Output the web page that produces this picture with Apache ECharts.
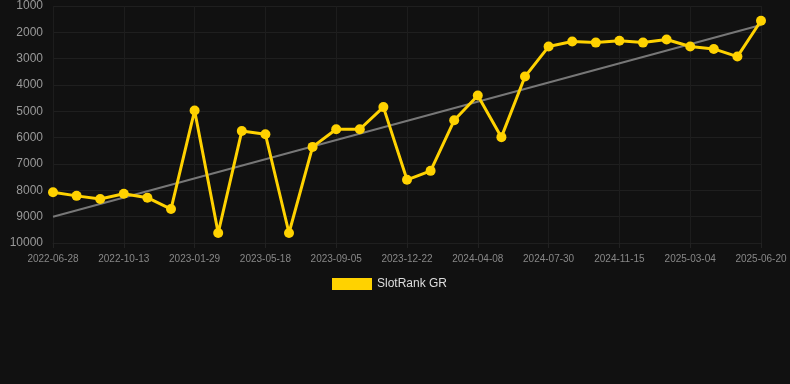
<!DOCTYPE html>
<html>
<head>
<meta charset="utf-8">
<script src="https://cdn.jsdelivr.net/npm/echarts@6/dist/echarts.min.js"></script>
<style>
  html, body { margin: 0; padding: 0; background: #111111; }
  #chart { width: 790px; height: 384px; }
</style>
</head>
<body>
<div id="chart"></div>
<script>
// dates between the labelled ticks are estimated
const dates = [
  '2022-06-28', '2022-08-03', '2022-09-08', '2022-10-13', '2022-11-18', '2022-12-24',
  '2023-01-29', '2023-03-06', '2023-04-12', '2023-05-18', '2023-06-24', '2023-07-30',
  '2023-09-05', '2023-10-11', '2023-11-16', '2023-12-22', '2024-01-27', '2024-03-03',
  '2024-04-08', '2024-05-15', '2024-06-22', '2024-07-30', '2024-09-04', '2024-10-10',
  '2024-11-15', '2024-12-21', '2025-01-27', '2025-03-04', '2025-04-09', '2025-05-15',
  '2025-06-20'
]
const rank = [
  8070, 8210, 8330, 8130, 8280, 8710,
  4970, 9620, 5750, 5870, 9620, 6350,
  5680, 5680, 4840, 7600, 7260, 5340,
  4400, 5980, 3680, 2540, 2350, 2390,
  2320, 2390, 2270, 2540, 2630, 2920,
  1560
]
// trend line end points
const trend = [[0, 9000], [30, 1720]]
const yTicks = { min: 1000, max: 10000, step: 1000 }

const chart = echarts.init(document.getElementById('chart'))
chart.setOption({
  backgroundColor: '#111111',
  textStyle: { fontFamily: 'Liberation Sans, Arial, sans-serif' },
  animation: false,
  legend: {
    top: 273,
    left: 327,
    itemWidth: 40,
    itemHeight: 12,
    icon: 'rect',
    data: ['SlotRank GR'],
    textStyle: { color: '#dddddd', fontSize: 12 }
  },
  grid: { top: 6, left: 53, right: 29, bottom: 141, containLabel: false },
  xAxis: {
    type: 'category',
    boundaryGap: false,
    data: dates,
    axisLine: { show: true, lineStyle: { color: '#1f1f1f' } },
    axisTick: { show: true, interval: 2, length: 5, lineStyle: { color: '#222222' } },
    axisLabel: { interval: 2, color: '#888888', fontSize: 10, margin: 11 },
    splitLine: { show: true, interval: 2, lineStyle: { color: '#1d1d1d' } }
  },
  yAxis: {
    type: 'value',
    inverse: true,
    min: yTicks.min,
    max: yTicks.max,
    interval: yTicks.step,
    axisLine: { show: false },
    axisTick: { show: false },
    axisLabel: { color: '#999999', fontSize: 12, margin: 10, formatter: v => String(v) },
    splitLine: { lineStyle: { color: '#1f1f1f' } }
  },
  series: [
    {
      name: 'SlotRank GR',
      type: 'line',
      data: rank,
      symbol: 'circle',
      symbolSize: 10,
      color: '#ffd200',
      lineStyle: { width: 3, color: '#ffd200' },
      itemStyle: { color: '#ffd200' },
      z: 3
    },
    {
      name: 'trend',
      type: 'line',
      data: trend,
      symbol: 'none',
      lineStyle: { width: 2, color: '#777777' },
      z: 2
    }
  ]
})
</script>
</body>
</html>
